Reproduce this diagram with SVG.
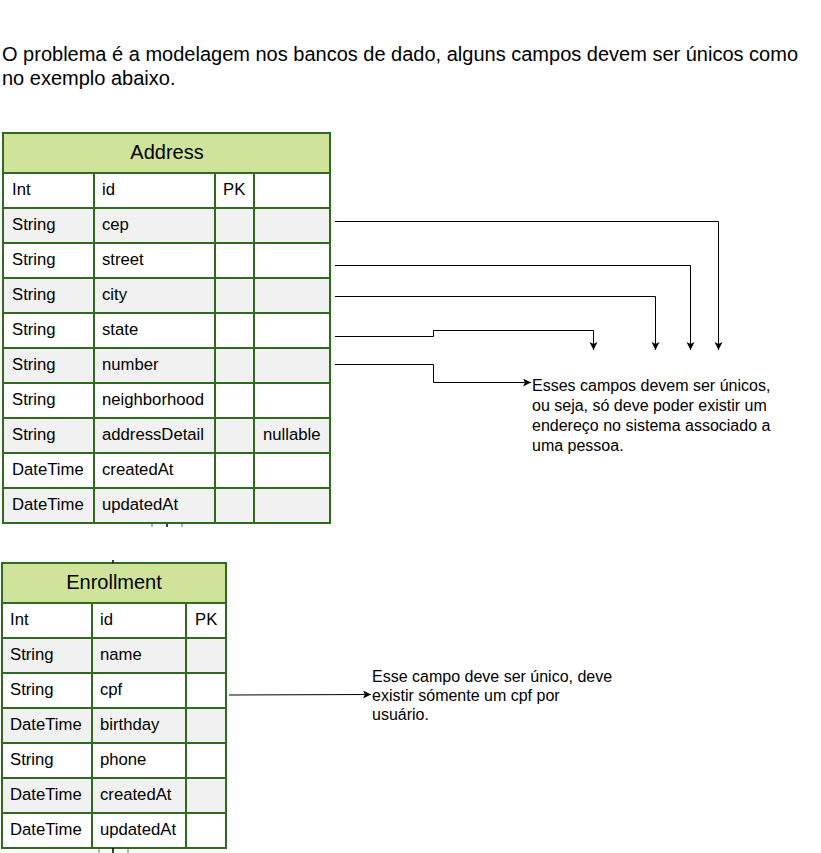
<svg xmlns="http://www.w3.org/2000/svg" width="821" height="853" viewBox="0 0 821 853">
<style>
text{font-family:"Liberation Sans",Arial,sans-serif;fill:#000}
.t{font-size:20px}
.h{font-size:20px;text-anchor:middle}
.c{font-size:16.7px}
.n{font-size:16px}
.hd{fill:#d0e39b;stroke:#2e6b1e;stroke-width:2}
.w{fill:#ffffff;stroke:#2e6b1e;stroke-width:2}
.g{fill:#f1f1f1;stroke:#2e6b1e;stroke-width:2}
.e{fill:none;stroke:#000;stroke-width:1}
.tk{stroke-width:1.5}
</style>
<defs>
<marker id="arr" markerUnits="userSpaceOnUse" markerWidth="10" markerHeight="9" refX="8" refY="4" orient="auto">
<path d="M0,0 L8,4 L0,8 L2,4 z" fill="#000"/>
</marker>
</defs>
<rect width="821" height="853" fill="#fff"/>
<g id="title">
<text class="t" x="2" y="61">O problema é a modelagem nos bancos de dado, alguns campos devem ser únicos como</text>
<text class="t" x="2" y="85">no exemplo abaixo.</text>
</g>
<g id="address">
<rect class="hd" x="3" y="133" width="327" height="40"/>
<text class="h" x="167" y="159">Address</text>
<g>
<rect class="w" x="3" y="173" width="91" height="35"/><rect class="w" x="94" y="173" width="121" height="35"/><rect class="w" x="215" y="173" width="39" height="35"/><rect class="w" x="254" y="173" width="76" height="35"/>
<text class="c" x="12" y="195">Int</text><text class="c" x="102" y="195">id</text><text class="c" x="223" y="195">PK</text>
</g>
<g>
<rect class="g" x="3" y="208" width="91" height="35"/><rect class="g" x="94" y="208" width="121" height="35"/><rect class="g" x="215" y="208" width="39" height="35"/><rect class="g" x="254" y="208" width="76" height="35"/>
<text class="c" x="12" y="230">String</text><text class="c" x="102" y="230">cep</text>
</g>
<g>
<rect class="w" x="3" y="243" width="91" height="35"/><rect class="w" x="94" y="243" width="121" height="35"/><rect class="w" x="215" y="243" width="39" height="35"/><rect class="w" x="254" y="243" width="76" height="35"/>
<text class="c" x="12" y="265">String</text><text class="c" x="102" y="265">street</text>
</g>
<g>
<rect class="g" x="3" y="278" width="91" height="35"/><rect class="g" x="94" y="278" width="121" height="35"/><rect class="g" x="215" y="278" width="39" height="35"/><rect class="g" x="254" y="278" width="76" height="35"/>
<text class="c" x="12" y="300">String</text><text class="c" x="102" y="300">city</text>
</g>
<g>
<rect class="w" x="3" y="313" width="91" height="35"/><rect class="w" x="94" y="313" width="121" height="35"/><rect class="w" x="215" y="313" width="39" height="35"/><rect class="w" x="254" y="313" width="76" height="35"/>
<text class="c" x="12" y="335">String</text><text class="c" x="102" y="335">state</text>
</g>
<g>
<rect class="g" x="3" y="348" width="91" height="35"/><rect class="g" x="94" y="348" width="121" height="35"/><rect class="g" x="215" y="348" width="39" height="35"/><rect class="g" x="254" y="348" width="76" height="35"/>
<text class="c" x="12" y="370">String</text><text class="c" x="102" y="370">number</text>
</g>
<g>
<rect class="w" x="3" y="383" width="91" height="35"/><rect class="w" x="94" y="383" width="121" height="35"/><rect class="w" x="215" y="383" width="39" height="35"/><rect class="w" x="254" y="383" width="76" height="35"/>
<text class="c" x="12" y="405">String</text><text class="c" x="102" y="405">neighborhood</text>
</g>
<g>
<rect class="g" x="3" y="418" width="91" height="35"/><rect class="g" x="94" y="418" width="121" height="35"/><rect class="g" x="215" y="418" width="39" height="35"/><rect class="g" x="254" y="418" width="76" height="35"/>
<text class="c" x="12" y="440">String</text><text class="c" x="102" y="440">addressDetail</text><text class="c" x="263" y="440">nullable</text>
</g>
<g>
<rect class="w" x="3" y="453" width="91" height="35"/><rect class="w" x="94" y="453" width="121" height="35"/><rect class="w" x="215" y="453" width="39" height="35"/><rect class="w" x="254" y="453" width="76" height="35"/>
<text class="c" x="12" y="475">DateTime</text><text class="c" x="102" y="475">createdAt</text>
</g>
<g>
<rect class="g" x="3" y="488" width="91" height="35"/><rect class="g" x="94" y="488" width="121" height="35"/><rect class="g" x="215" y="488" width="39" height="35"/><rect class="g" x="254" y="488" width="76" height="35"/>
<text class="c" x="12" y="510">DateTime</text><text class="c" x="102" y="510">updatedAt</text>
</g>
</g>
<g id="enrollment">
<rect class="hd" x="2" y="563" width="224" height="40"/>
<text class="h" x="114" y="589">Enrollment</text>
<g>
<rect class="w" x="2" y="603" width="90" height="35"/><rect class="w" x="92" y="603" width="94" height="35"/><rect class="w" x="186" y="603" width="40" height="35"/>
<text class="c" x="10" y="625">Int</text><text class="c" x="100" y="625">id</text><text class="c" x="195" y="625">PK</text>
</g>
<g>
<rect class="g" x="2" y="638" width="90" height="35"/><rect class="g" x="92" y="638" width="94" height="35"/><rect class="g" x="186" y="638" width="40" height="35"/>
<text class="c" x="10" y="660">String</text><text class="c" x="100" y="660">name</text>
</g>
<g>
<rect class="w" x="2" y="673" width="90" height="35"/><rect class="w" x="92" y="673" width="94" height="35"/><rect class="w" x="186" y="673" width="40" height="35"/>
<text class="c" x="10" y="695">String</text><text class="c" x="100" y="695">cpf</text>
</g>
<g>
<rect class="g" x="2" y="708" width="90" height="35"/><rect class="g" x="92" y="708" width="94" height="35"/><rect class="g" x="186" y="708" width="40" height="35"/>
<text class="c" x="10" y="730">DateTime</text><text class="c" x="100" y="730">birthday</text>
</g>
<g>
<rect class="w" x="2" y="743" width="90" height="35"/><rect class="w" x="92" y="743" width="94" height="35"/><rect class="w" x="186" y="743" width="40" height="35"/>
<text class="c" x="10" y="765">String</text><text class="c" x="100" y="765">phone</text>
</g>
<g>
<rect class="g" x="2" y="778" width="90" height="35"/><rect class="g" x="92" y="778" width="94" height="35"/><rect class="g" x="186" y="778" width="40" height="35"/>
<text class="c" x="10" y="800">DateTime</text><text class="c" x="100" y="800">createdAt</text>
</g>
<g>
<rect class="w" x="2" y="813" width="90" height="35"/><rect class="w" x="92" y="813" width="94" height="35"/><rect class="w" x="186" y="813" width="40" height="35"/>
<text class="c" x="10" y="835">DateTime</text><text class="c" x="100" y="835">updatedAt</text>
</g>
</g>
<g id="note-address">
<text class="n" x="532" y="391">Esses campos devem ser únicos,</text>
<text class="n" x="532" y="411">ou seja, só deve poder existir um</text>
<text class="n" x="532" y="431">endereço no sistema associado a</text>
<text class="n" x="532" y="451">uma pessoa.</text>
</g>
<g id="note-enrollment">
<text class="n" x="372" y="682">Esse campo deve ser único, deve</text>
<text class="n" x="372" y="701">existir sómente um cpf por</text>
<text class="n" x="372" y="720">usuário.</text>
</g>
<g id="connectors">
<path class="e" d="M335,221.5 H718.5 V350" marker-end="url(#arr)"/>
<path class="e" d="M335,265.5 H690.5 V350" marker-end="url(#arr)"/>
<path class="e" d="M335,296.5 H655.5 V350" marker-end="url(#arr)"/>
<path class="e" d="M335,336.5 H433.5 V330.5 H593.5 V350" marker-end="url(#arr)"/>
<path class="e" d="M335,364.5 H433.5 V382.5 H531" marker-end="url(#arr)"/>
<path class="e" d="M229,695 L371,694.5" marker-end="url(#arr)"/>
<path class="tk" stroke="#999" d="M152,524 V527 M182,524 V527 M99,849 V853 M128,849 V853"/>
<path class="tk" stroke="#000" d="M167,524 V527 M113,560 V563 M113,848 V853"/>
</g>
</svg>
